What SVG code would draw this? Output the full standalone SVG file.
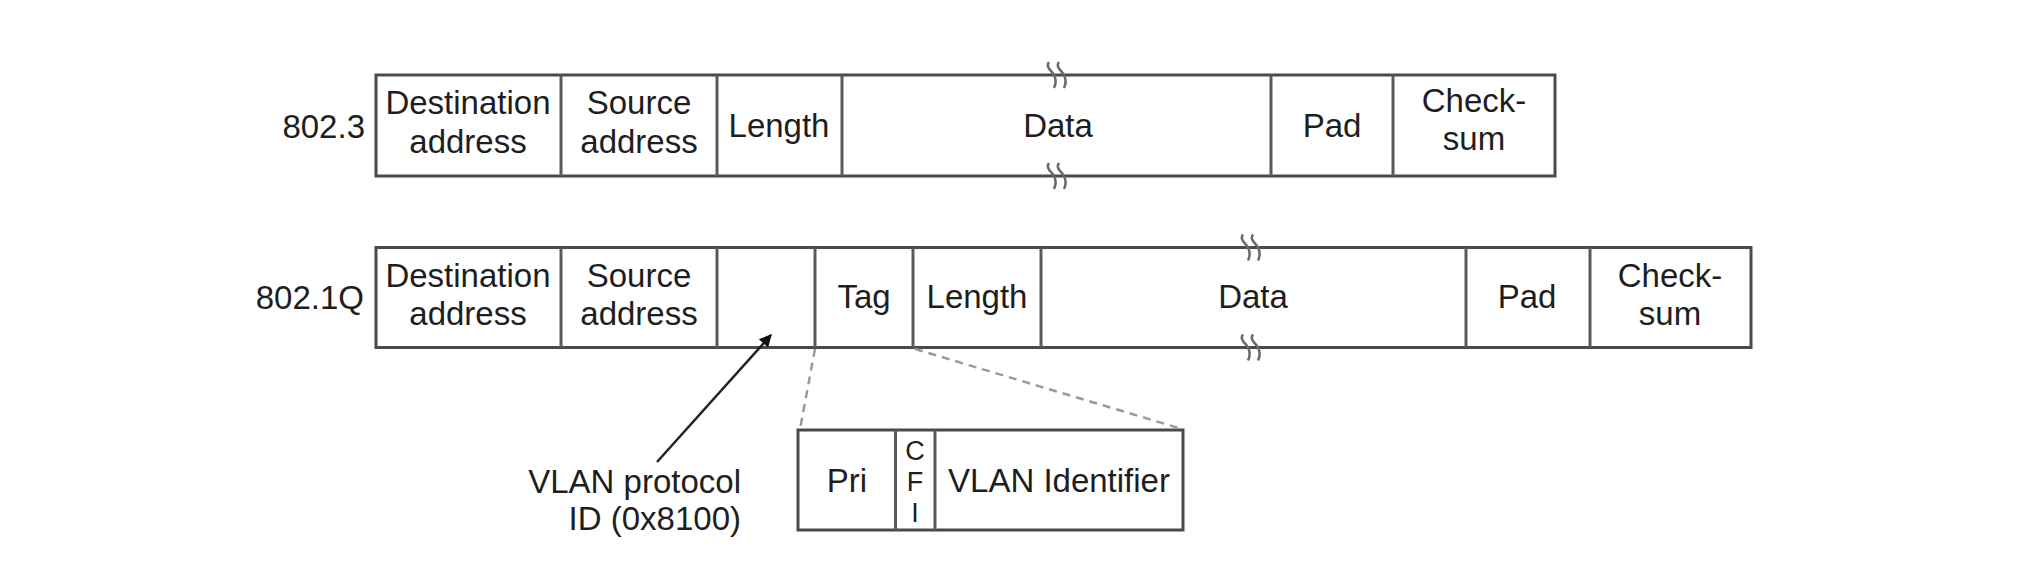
<svg xmlns="http://www.w3.org/2000/svg" width="2024" height="585" viewBox="0 0 2024 585">
<style>
  .t { font-family: "Liberation Sans", Arial, sans-serif; font-size: 33px; fill: #1e1e1e; text-anchor: middle; }
  .cfi { font-family: "Liberation Sans", Arial, sans-serif; font-size: 27px; fill: #1e1e1e; text-anchor: middle; }
  .lbl { font-family: "Liberation Sans", Arial, sans-serif; font-size: 33px; fill: #1e1e1e; text-anchor: end; }
  .box { fill: #ffffff; stroke: #4a4a4a; stroke-width: 3; }
  .div { stroke: #5a5a5a; stroke-width: 3; fill: none; }
  .brk { stroke: #6a6a6a; stroke-width: 2.5; fill: none; }
  .dash { stroke: #9a9a9a; stroke-width: 2.5; stroke-dasharray: 8 6; fill: none; }
  .arrow { stroke: #222; stroke-width: 2.5; fill: none; }
</style>
<defs>
  <marker id="ah" viewBox="0 0 10 10" refX="9" refY="5" markerWidth="6" markerHeight="5" orient="auto" markerUnits="strokeWidth">
    <path d="M0,0 L10,5 L0,10 z" fill="#111"/>
  </marker>
  <g id="breakmark">
    <path d="M-9,-13 C-13,-8 -6,-4 -4,0 C-2,4 -2,9 -4,13"/>
    <path d="M1,-13 C-3,-8 4,-4 6,0 C8,4 8,9 6,13"/>
  </g>
</defs>

<g id="label-8023"><text class="lbl" x="365" y="138">802.3</text></g>
<g id="label-8021q"><text class="lbl" x="364" y="309">802.1Q</text></g>

<!-- 802.3 frame -->
<g id="frame-8023">
  <rect class="box" x="376" y="75" width="1179" height="101"/>
  <line class="div" x1="561" y1="75" x2="561" y2="176"/>
  <line class="div" x1="717" y1="75" x2="717" y2="176"/>
  <line class="div" x1="842" y1="75" x2="842" y2="176"/>
  <line class="div" x1="1271" y1="75" x2="1271" y2="176"/>
  <line class="div" x1="1393" y1="75" x2="1393" y2="176"/>
  <g class="brk" transform="translate(1058,75)"><use href="#breakmark"/></g>
  <g class="brk" transform="translate(1058,176)"><use href="#breakmark"/></g>
  <text class="t" x="468" y="114">Destination</text>
  <text class="t" x="468" y="153">address</text>
  <text class="t" x="639" y="114">Source</text>
  <text class="t" x="639" y="153">address</text>
  <text class="t" x="779" y="137">Length</text>
  <text class="t" x="1058" y="137">Data</text>
  <text class="t" x="1332" y="137">Pad</text>
  <text class="t" x="1474" y="112">Check-</text>
  <text class="t" x="1474" y="150">sum</text>
</g>

<!-- 802.1Q frame -->
<g id="frame-8021q">
  <rect class="box" x="376" y="247.5" width="1375" height="100"/>
  <line class="div" x1="561" y1="247.5" x2="561" y2="347.5"/>
  <line class="div" x1="717" y1="247.5" x2="717" y2="347.5"/>
  <line class="div" x1="815" y1="247.5" x2="815" y2="347.5"/>
  <line class="div" x1="913" y1="247.5" x2="913" y2="347.5"/>
  <line class="div" x1="1041" y1="247.5" x2="1041" y2="347.5"/>
  <line class="div" x1="1466" y1="247.5" x2="1466" y2="347.5"/>
  <line class="div" x1="1590" y1="247.5" x2="1590" y2="347.5"/>
  <g class="brk" transform="translate(1252,247.5)"><use href="#breakmark"/></g>
  <g class="brk" transform="translate(1252,347.5)"><use href="#breakmark"/></g>
  <text class="t" x="468" y="287">Destination</text>
  <text class="t" x="468" y="325">address</text>
  <text class="t" x="639" y="287">Source</text>
  <text class="t" x="639" y="325">address</text>
  <text class="t" x="864" y="308">Tag</text>
  <text class="t" x="977" y="308">Length</text>
  <text class="t" x="1253" y="308">Data</text>
  <text class="t" x="1527" y="308">Pad</text>
  <text class="t" x="1670" y="287">Check-</text>
  <text class="t" x="1670" y="325">sum</text>
</g>

<!-- Tag detail -->
<g id="tag-detail">
  <rect class="box" x="798" y="430" width="385" height="100"/>
  <line class="div" x1="895.5" y1="430" x2="895.5" y2="530"/>
  <line class="div" x1="935" y1="430" x2="935" y2="530"/>
  <text class="t" x="847" y="492">Pri</text>
  <text class="cfi" x="915" y="460">C</text>
  <text class="cfi" x="915" y="491">F</text>
  <text class="cfi" x="915" y="522">I</text>
  <text class="t" x="1059" y="492">VLAN Identifier</text>
</g>

<g id="vlan-label">
  <text class="lbl" x="741" y="493">VLAN protocol</text>
  <text class="lbl" x="741" y="530">ID (0x8100)</text>
</g>

<g id="connectors">
  <line class="dash" x1="815" y1="349" x2="800" y2="429"/>
  <line class="dash" x1="915" y1="349" x2="1182" y2="429"/>
  <line class="arrow" x1="657" y1="462" x2="771" y2="335" marker-end="url(#ah)"/>
</g>
</svg>
